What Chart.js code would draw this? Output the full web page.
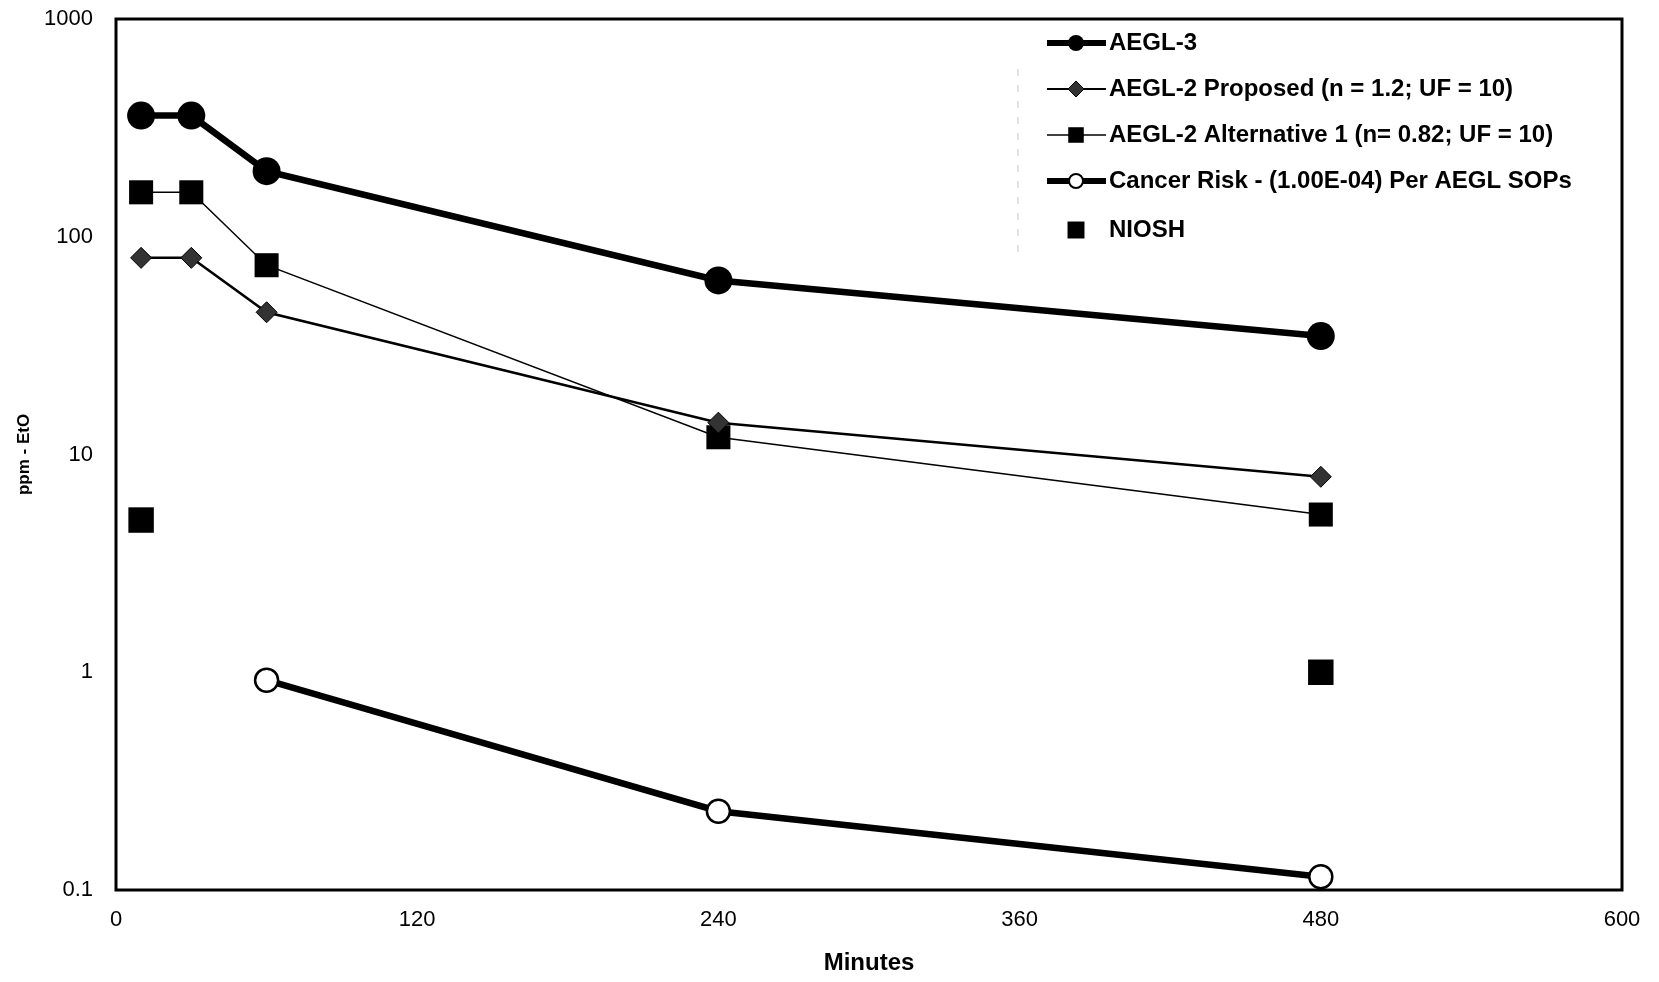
<!DOCTYPE html>
<html lang="en">
<head>
    <meta charset="UTF-8">
    <title>EtO AEGL values</title>
    <script src="https://cdn.jsdelivr.net/npm/chart.js"></script>
    <style>
        body { margin: 0; background: #fff; }
        #wrap { width: 1659px; height: 982px; }
    </style>
</head>
<body>
    <div id="wrap"><canvas id="chart" width="1659" height="982"></canvas></div>
    <script>
        // data
        var minutes = [10, 30, 60, 240, 480];
        var aegl3 = [360, 360, 200, 63, 35];
        var aegl2Proposed = [80, 80, 45, 14, 7.9];
        var aegl2Alt = [160, 160, 74, 12, 5.3];
        var cancerMinutes = [60, 240, 480];
        var cancerRisk = [0.92, 0.23, 0.115];
        var nioshMinutes = [10, 480];
        var niosh = [5, 1];
        var yTicks = [0.1, 1, 10, 100, 1000];
        var seriesNames = [
            'AEGL-3',
            'AEGL-2 Proposed (n = 1.2; UF = 10)',
            'AEGL-2 Alternative 1 (n= 0.82; UF = 10)',
            'Cancer Risk - (1.00E-04) Per AEGL SOPs',
            'NIOSH'
        ];

        function pts(xs, ys) {
            return xs.map(function (x, i) { return { x: x, y: ys[i] }; });
        }

        function drawMarker(ctx, style, x, y, r, fill, stroke, lw) {
            ctx.save();
            ctx.beginPath();
            if (style === 'circle') {
                ctx.arc(x, y, r, 0, Math.PI * 2);
            } else if (style === 'rectRot') {
                ctx.moveTo(x - r, y);
                ctx.lineTo(x, y - r);
                ctx.lineTo(x + r, y);
                ctx.lineTo(x, y + r);
                ctx.closePath();
            } else {
                var s = r * Math.SQRT1_2;
                ctx.rect(x - s, y - s, 2 * s, 2 * s);
            }
            ctx.fillStyle = fill;
            ctx.fill();
            if (lw > 0) {
                ctx.lineWidth = lw;
                ctx.strokeStyle = stroke;
                ctx.stroke();
            }
            ctx.restore();
        }

        // black box round the plot area
        var frame = {
            id: 'frame',
            beforeDatasetsDraw: function (chart) {
                var a = chart.chartArea, ctx = chart.ctx;
                ctx.save();
                ctx.lineWidth = 3;
                ctx.strokeStyle = '#000';
                ctx.strokeRect(a.left, a.top, a.right - a.left, a.bottom - a.top);
                ctx.restore();
            }
        };

        // legend drawn inside the plot, top right
        var insideLegend = {
            id: 'insideLegend',
            afterDraw: function (chart) {
                var ctx = chart.ctx;
                var rows = [43, 89, 135, 181, 230];
                var lineStyles = [
                    { lw: 6, style: 'circle', r: 8, fill: '#000', stroke: '#000', blw: 0, line: true },
                    { lw: 2, style: 'rectRot', r: 8, fill: '#333', stroke: '#000', blw: 1, line: true },
                    { lw: 1.5, style: 'rect', r: 11, fill: '#000', stroke: '#000', blw: 0, line: true },
                    { lw: 6, style: 'circle', r: 7, fill: '#fff', stroke: '#000', blw: 2, line: true },
                    { lw: 0, style: 'rect', r: 12, fill: '#000', stroke: '#000', blw: 0, line: false }
                ];
                ctx.save();
                ctx.strokeStyle = '#c8c8c8';
                ctx.lineWidth = 1;
                ctx.setLineDash([7, 9]);
                ctx.beginPath();
                ctx.moveTo(1018, 69);
                ctx.lineTo(1018, 254);
                ctx.stroke();
                ctx.setLineDash([]);
                seriesNames.forEach(function (name, i) {
                    var st = lineStyles[i], y = rows[i];
                    if (st.line) {
                        ctx.beginPath();
                        ctx.lineWidth = st.lw;
                        ctx.strokeStyle = '#000';
                        ctx.moveTo(1047, y);
                        ctx.lineTo(1106, y);
                        ctx.stroke();
                    }
                    drawMarker(ctx, st.style, 1076, y, st.r, st.fill, st.stroke, st.blw);
                    ctx.fillStyle = '#000';
                    ctx.font = 'bold 24px "Liberation Sans", Arial, sans-serif';
                    ctx.textBaseline = 'middle';
                    ctx.textAlign = 'left';
                    ctx.fillText(name, 1109, y);
                });
                ctx.restore();
            }
        };

        var ctx = document.getElementById('chart').getContext('2d');
        var chart = new Chart(ctx, {
            type: 'line',
            data: {
                datasets: [{
                    label: seriesNames[0],
                    data: pts(minutes, aegl3),
                    borderColor: '#000',
                    borderWidth: 6.5,
                    pointStyle: 'circle',
                    pointRadius: 14,
                    pointBackgroundColor: '#000',
                    pointBorderWidth: 0
                }, {
                    label: seriesNames[1],
                    data: pts(minutes, aegl2Proposed),
                    borderColor: '#000',
                    borderWidth: 2.5,
                    pointStyle: 'rectRot',
                    pointRadius: 10.5,
                    pointBackgroundColor: '#333',
                    pointBorderColor: '#000',
                    pointBorderWidth: 1
                }, {
                    label: seriesNames[2],
                    data: pts(minutes, aegl2Alt),
                    borderColor: '#000',
                    borderWidth: 1.5,
                    pointStyle: 'rect',
                    pointRadius: 17,
                    pointBackgroundColor: '#000',
                    pointBorderWidth: 0
                }, {
                    label: seriesNames[3],
                    data: pts(cancerMinutes, cancerRisk),
                    borderColor: '#000',
                    borderWidth: 6.5,
                    pointStyle: 'circle',
                    pointRadius: 11.5,
                    pointBackgroundColor: '#fff',
                    pointBorderColor: '#000',
                    pointBorderWidth: 2.5
                }, {
                    label: seriesNames[4],
                    data: pts(nioshMinutes, niosh),
                    showLine: false,
                    pointStyle: 'rect',
                    pointRadius: 18,
                    pointBackgroundColor: '#000',
                    pointBorderWidth: 0
                }]
            },
            options: {
                responsive: false,
                animation: false,
                devicePixelRatio: 1,
                clip: false,
                layout: { padding: { top: 19, right: 37, left: 0, bottom: 0 } },
                plugins: {
                    legend: { display: false },
                    tooltip: { enabled: false }
                },
                scales: {
                    x: {
                        type: 'linear',
                        min: 0,
                        max: 600,
                        grid: { display: false, drawTicks: false },
                        border: { display: false },
                        ticks: {
                            stepSize: 120,
                            color: '#000',
                            padding: 17,
                            font: { family: '"Liberation Sans", Arial, sans-serif', size: 22 }
                        },
                        title: {
                            display: true,
                            text: 'Minutes',
                            color: '#000',
                            padding: { top: 0, bottom: 4 },
                            font: { family: '"Liberation Sans", Arial, sans-serif', size: 24, weight: 'bold' }
                        },
                        afterFit: function (scale) {
                            scale.height = 92;
                            scale.paddingLeft = 0;
                            scale.paddingRight = 0;
                        }
                    },
                    y: {
                        type: 'logarithmic',
                        min: 0.1,
                        max: 1000,
                        grid: { display: false, drawTicks: false },
                        border: { display: false },
                        afterBuildTicks: function (scale) {
                            scale.ticks = yTicks.map(function (v) { return { value: v }; });
                        },
                        ticks: {
                            color: '#000',
                            padding: 23,
                            font: { family: '"Liberation Sans", Arial, sans-serif', size: 22 },
                            callback: function (v) { return String(v); }
                        },
                        title: {
                            display: true,
                            text: 'ppm - EtO',
                            color: '#000',
                            padding: { top: 14, bottom: 0 },
                            font: { family: '"Liberation Sans", Arial, sans-serif', size: 17, weight: 'bold' }
                        },
                        afterFit: function (scale) {
                            scale.width = 116;
                            scale.paddingTop = 0;
                            scale.paddingBottom = 0;
                        }
                    }
                }
            },
            plugins: [frame, insideLegend]
        });
    </script>
</body>
</html>
